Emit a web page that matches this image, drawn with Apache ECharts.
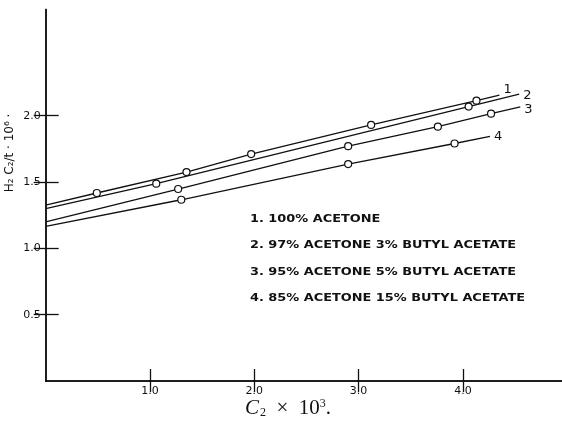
<!DOCTYPE html>
<html>
<head>
<meta charset="utf-8">
<script src="https://cdn.jsdelivr.net/npm/echarts@6/dist/echarts.min.js"></script>
<style>
  html, body { margin: 0; padding: 0; background: #fff; }
  #chart { width: 562px; height: 431px; }
</style>
</head>
<body>
<div id="chart"></div>
<script>
// Tick positions on both axes
const xTicks = [1, 2, 3, 4];
const yTicks = [0.5, 1, 1.5, 2];

// Curve captions and the short tags written at the end of each line
const curveNames = [
  '1. 100% ACETONE',
  '2. 97% ACETONE 3% BUTYL ACETATE',
  '3. 95% ACETONE 5% BUTYL ACETATE',
  '4. 85% ACETONE 15% BUTYL ACETATE'
];
const curveTags = ['1', '2', '3', '4'];

// Measured points [C2 x 10^3, H2 C2 / t x 10^6]
const points1 = [[0.49, 1.417], [1.35, 1.575], [1.97, 1.71], [3.12, 1.93], [4.13, 2.113]];
const points2 = [[1.06, 1.487], [4.055, 2.068]];
const points3 = [[1.27, 1.447], [2.9, 1.77], [3.76, 1.917], [4.27, 2.015]];
const points4 = [[1.30, 1.366], [2.9, 1.635], [3.92, 1.79]];

// Where each drawn line begins and ends
const ends1 = [[0, 1.325], [4.35, 2.155]];
const ends2 = [[0, 1.30], [4.54, 2.162]];
const ends3 = [[0, 1.20], [4.55, 2.066]];
const ends4 = [[0, 1.166], [4.26, 1.844]];

const allPoints = [points1, points2, points3, points4];
const allEnds = [ends1, ends2, ends3, ends4];

const INK = '#111';
const tagOffsets = [[0, -5], [0, 1], [0, 3], [0, 0]];

function buildData(points, ends) {
  return [{ value: ends[0], symbol: 'none' }]
    .concat(points.map(p => ({ value: p })))
    .concat([{ value: ends[1], symbol: 'none' }]);
}

const series = allPoints.map((pts, i) => ({
  type: 'line',
  name: curveNames[i],
  data: buildData(pts, allEnds[i]),
  symbol: 'circle',
  symbolSize: 7,
  showAllSymbol: true,
  itemStyle: { color: '#fff', borderColor: INK, borderWidth: 1.2 },
  lineStyle: { color: INK, width: 1.3 },
  emphasis: { disabled: true },
  endLabel: {
    show: true,
    formatter: curveTags[i],
    distance: 4,
    offset: tagOffsets[i],
    color: INK,
    fontFamily: 'DejaVu Sans',
    fontSize: 13
  }
}));

const tickFmt = v => v.toFixed(1);

const axisCommon = {
  type: 'value',
  axisLine: { show: true, lineStyle: { color: INK, width: 1.5 } },
  splitLine: { show: false }
};

const option = {
  animation: false,
  backgroundColor: '#fff',
  grid: { left: 45.7, right: -5.2, top: 9.5, bottom: 50, containLabel: false, outerBoundsMode: 'none' },
  xAxis: [
    Object.assign({}, axisCommon, {
      min: 0, max: 5, interval: 1, position: 'bottom',
      axisTick: { show: true, inside: true, length: 12, customValues: xTicks, lineStyle: { color: INK, width: 1.3 } },
      axisLabel: { show: true, customValues: xTicks, formatter: tickFmt, color: INK, fontFamily: 'DejaVu Sans', fontSize: 11, margin: 5 }
    }),
    Object.assign({}, axisCommon, {
      min: 0, max: 5, interval: 1, position: 'top',
      axisTick: { show: true, inside: true, length: 11, customValues: xTicks, lineStyle: { color: INK, width: 1.3 } },
      axisLabel: { show: false }
    })
  ],
  yAxis: [
    Object.assign({}, axisCommon, {
      min: 0, max: 2.8, interval: 0.5, position: 'left',
      axisTick: { show: true, inside: true, length: 13, customValues: yTicks, lineStyle: { color: INK, width: 1.3 } },
      axisLabel: { show: true, customValues: yTicks, formatter: tickFmt, color: INK, fontFamily: 'DejaVu Sans', fontSize: 11, margin: 5 }
    }),
    Object.assign({}, axisCommon, {
      min: 0, max: 2.8, interval: 0.5, position: 'right',
      axisTick: { show: true, inside: true, length: 12, customValues: yTicks, lineStyle: { color: INK, width: 1.3 } },
      axisLabel: { show: false }
    })
  ],
  series: series,
  graphic: [
    // caption block inside the plot
    ...curveNames.map((t, i) => ({
      type: 'text',
      x: 250,
      y: [219, 245.5, 272, 298][i],
      scaleX: 1.29,
      silent: true,
      style: {
        text: t,
        fill: INK,
        font: 'bold 10px "DejaVu Sans"',
        align: 'left',
        verticalAlign: 'middle'
      }
    })),
    // vertical axis title
    {
      type: 'text',
      x: 10,
      y: 153,
      rotation: Math.PI / 2,
      silent: true,
      style: {
        text: 'H₂ C₂/t · 10⁶ ·',
        fill: INK,
        font: '12px "DejaVu Sans"',
        align: 'center',
        verticalAlign: 'middle'
      }
    },
    // horizontal axis title
    {
      type: 'text',
      x: 288,
      y: 408,
      silent: true,
      style: {
        text: '{c|C}{s|2}{n|  ×  10}{p|3}{n|.}',
        align: 'center',
        verticalAlign: 'middle',
        rich: {
          c: { fontFamily: 'Liberation Serif', fontStyle: 'italic', fontSize: 21, fill: INK, color: INK },
          s: { fontFamily: 'Liberation Serif', fontSize: 12, fill: INK, color: INK, padding: [9, 0, 0, 1] },
          n: { fontFamily: 'Liberation Serif', fontSize: 21, fill: INK, color: INK },
          p: { fontFamily: 'Liberation Serif', fontSize: 12, fill: INK, color: INK, padding: [0, 0, 9, 0] }
        }
      }
    }
  ]
};

const chart = echarts.init(document.getElementById('chart'), null, { renderer: 'canvas' });
chart.setOption(option);
</script>
</body>
</html>
